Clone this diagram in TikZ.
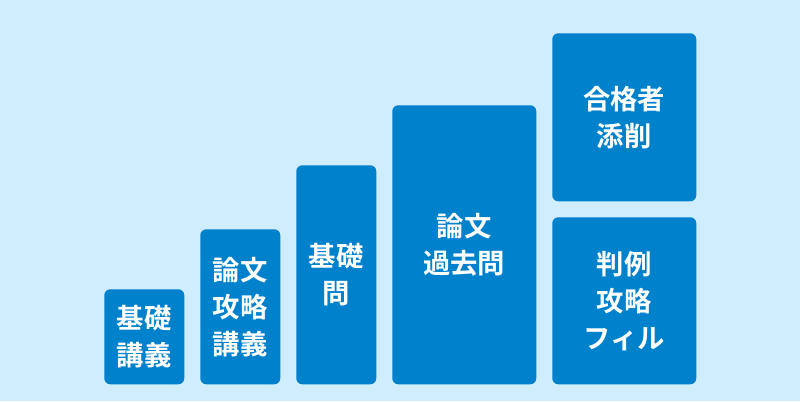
\documentclass[tikz,border=0pt]{standalone}
\usepackage{fontspec}
\usepackage{xcolor}
\newfontfamily\jp{Noto Sans CJK JP}[BoldFont={Noto Sans CJK JP Bold}]
\definecolor{bgblue}{RGB}{207,237,252}
\definecolor{boxblue}{RGB}{0,129,204}
\usetikzlibrary{positioning}

\begin{document}
\begin{tikzpicture}[x=0.75pt,y=-0.75pt,
  blk/.style={fill=boxblue,rounded corners=4.5pt,text=white,align=center,
    inner sep=0pt,anchor=north west,
    font=\jp\bfseries\fontsize{20.5pt}{27.75pt}\selectfont}]
  \fill[bgblue] (0,0) rectangle (800,401);
  \node[blk,minimum width=60pt,minimum height=71.25pt] (kisokogi) at (104,289) {基礎\\講義};
  \node[blk,minimum width=60pt,minimum height=116.25pt] (ronbunkogi) at (200,229) {論文\\攻略\\講義};
  \node[blk,minimum width=60pt,minimum height=164.25pt] (kisomon) at (296,165) {基礎\\問};
  \node[blk,minimum width=108pt,minimum height=209.25pt] (kakomon) at (392,105) {論文\\過去問};
  \node[blk,minimum width=108pt,minimum height=126pt] (tensaku) at (552,33) {合格者\\添削};
  \node[blk,minimum width=108pt,minimum height=125.25pt] (hanrei) at (552,217) {判例\\攻略\\フィル};
\end{tikzpicture}
\end{document}
